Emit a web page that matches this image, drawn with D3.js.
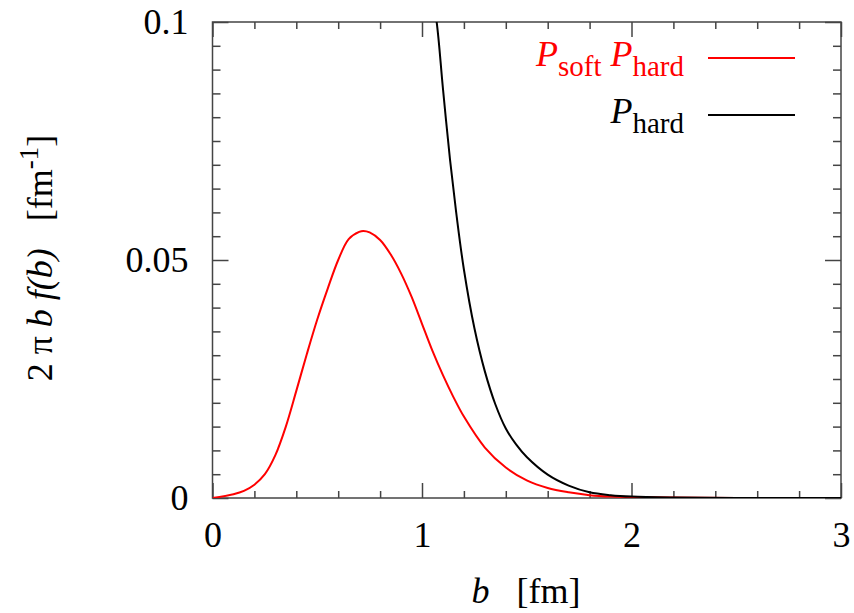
<!DOCTYPE html>
<html>
<head>
<meta charset="utf-8">
<script src="https://cdn.jsdelivr.net/npm/d3@7"></script>
<style>
  body { margin: 0; background: #fff; }
  text { font-family: "Liberation Serif", "DejaVu Serif", serif; white-space: pre; }
</style>
</head>
<body>
<svg id="chart" width="854" height="613"></svg>
<script>
// values
const bSoftHard = [0, 0.1, 0.15, 0.2, 0.25, 0.3, 0.35, 0.4, 0.45, 0.5, 0.55, 0.6, 0.65, 0.7, 0.72, 0.75, 0.8, 0.85, 0.9, 0.95, 1.0, 1.05, 1.1, 1.15, 1.2, 1.3, 1.4, 1.5, 1.6, 1.7, 1.8, 1.9, 2.0, 2.2, 2.5, 3.0];
const softHard = [0, 0.0008, 0.0015, 0.0028, 0.0050, 0.0090, 0.0150, 0.0225, 0.0302, 0.0375, 0.0440, 0.0500, 0.0544, 0.0559, 0.0561, 0.0558, 0.0542, 0.0512, 0.0472, 0.0423, 0.0366, 0.0309, 0.0258, 0.0212, 0.0171, 0.0106, 0.0064, 0.0037, 0.0021, 0.0012, 0.0006, 0.0003, 0.0002, 0.0001, 0, 0];
const bHard = [1.04, 1.07, 1.1, 1.134, 1.166, 1.2, 1.25, 1.3, 1.35, 1.4, 1.45, 1.5, 1.6, 1.7, 1.8, 1.9, 2.0, 2.2, 2.5, 3.0];
const hard = [0.108, 0.100, 0.086, 0.071, 0.059, 0.048, 0.0357, 0.0266, 0.0197, 0.0146, 0.0112, 0.0086, 0.0049, 0.0026, 0.0012, 0.0006, 0.0003, 0.0001, 0, 0];
const xTicks = [0, 1, 2, 3];
const yTicks = [0, 0.05, 0.1];
const yTickLabels = ["0", "0.05", "0.1"];

const svg = d3.select("#chart");
const pLeft = 212.5, pRight = 841, pTop = 22, pBottom = 498;
const axisColor = "#444";

const x = d3.scaleLinear().domain([0, 3]).range([pLeft, pRight]);
const y = d3.scaleLinear().domain([0, 0.1]).range([pBottom, pTop]);

svg.append("clipPath").attr("id", "plotclip")
      .append("rect").attr("x", pLeft).attr("y", pTop).attr("width", pRight - pLeft).attr("height", pBottom - pTop);

const minorX = d3.range(0, 3.0001, 0.2).map(d => +d.toFixed(1)).filter(d => !xTicks.includes(d));
const minorY = d3.range(0, 0.1001, 0.005).map(d => +d.toFixed(3)).filter(d => !yTicks.includes(d));

function styleAxis(g) {
      g.select(".domain").remove();
      g.selectAll("line").attr("stroke", axisColor).attr("stroke-width", 1.5);
      g.selectAll("text").attr("fill", "#000").attr("font-size", 36).attr("font-family", "Liberation Serif");
}

// bottom
svg.append("g").attr("transform", `translate(0,${pBottom})`)
      .call(d3.axisBottom(x).tickValues(xTicks).tickSize(-15).tickFormat(d3.format("d")))
      .call(styleAxis)
      .call(g => g.selectAll("text").attr("y", 49).attr("dy", 0));
svg.append("g").attr("transform", `translate(0,${pBottom})`)
      .call(d3.axisBottom(x).tickValues(minorX).tickSize(-7).tickFormat(""))
      .call(styleAxis);
// top
svg.append("g").attr("transform", `translate(0,${pTop})`)
      .call(d3.axisTop(x).tickValues(xTicks).tickSize(-15).tickFormat(""))
      .call(styleAxis);
svg.append("g").attr("transform", `translate(0,${pTop})`)
      .call(d3.axisTop(x).tickValues(minorX).tickSize(-7).tickFormat(""))
      .call(styleAxis);
// left
svg.append("g").attr("transform", `translate(${pLeft},0)`)
      .call(d3.axisLeft(y).tickValues(yTicks).tickSize(-16).tickPadding(24).tickFormat((d, i) => yTickLabels[i]))
      .call(styleAxis)
      .call(g => g.selectAll("text").attr("dy", "0.33em"));
svg.append("g").attr("transform", `translate(${pLeft},0)`)
      .call(d3.axisLeft(y).tickValues(minorY).tickSize(-8).tickFormat(""))
      .call(styleAxis);
// right
svg.append("g").attr("transform", `translate(${pRight},0)`)
      .call(d3.axisRight(y).tickValues(yTicks).tickSize(-16).tickFormat(""))
      .call(styleAxis);
svg.append("g").attr("transform", `translate(${pRight},0)`)
      .call(d3.axisRight(y).tickValues(minorY).tickSize(-8).tickFormat(""))
      .call(styleAxis);

// frame
svg.append("rect").attr("x", pLeft).attr("y", pTop).attr("width", pRight - pLeft).attr("height", pBottom - pTop)
      .attr("fill", "none").attr("stroke", axisColor).attr("stroke-width", 1.5);

const line = d3.line().x(d => x(d[0])).y(d => y(d[1])).curve(d3.curveCatmullRom.alpha(0.5));

svg.append("path").datum(d3.zip(bSoftHard, softHard))
      .attr("clip-path", "url(#plotclip)")
      .attr("fill", "none").attr("stroke", "#ff0000").attr("stroke-width", 2)
      .attr("d", line);

svg.append("path").datum(d3.zip(bHard, hard))
      .attr("clip-path", "url(#plotclip)")
      .attr("fill", "none").attr("stroke", "#000").attr("stroke-width", 2)
      .attr("d", line);

// legend
const legend = [
      { parts: [["P", "italic"], ["soft", "sub"], [" ", ""], ["P", "italic"], ["hard", "sub"]], color: "#ff0000", y: 58 },
      { parts: [["P", "italic"], ["hard", "sub"]], color: "#000", y: 115 }
];
legend.forEach(item => {
      const t = svg.append("text").attr("x", 684).attr("y", item.y + 8)
            .attr("text-anchor", "end").attr("font-size", 36).attr("fill", item.color);
      let shifted = false;
      item.parts.forEach(p => {
            const ts = t.append("tspan").text(p[0]);
            if (p[1] === "italic") ts.attr("font-style", "italic");
            if (p[1] === "sub") {
                  ts.attr("font-size", 29).attr("dy", shifted ? 0 : 10);
                  shifted = true;
            } else if (shifted) {
                  ts.attr("dy", -10);
                  shifted = false;
            }
      });
      svg.append("line").attr("x1", 708).attr("x2", 795).attr("y1", item.y).attr("y2", item.y)
            .attr("stroke", item.color).attr("stroke-width", 2);
});

// x label
const xl = svg.append("text").attr("x", 526).attr("y", 603).attr("text-anchor", "middle").attr("font-size", 36);
xl.append("tspan").attr("font-style", "italic").text("b");
xl.append("tspan").text("   [fm]");

// y label
const yl = svg.append("text").attr("transform", "translate(52,258) rotate(-90)")
      .attr("text-anchor", "middle").attr("font-size", 36);
yl.append("tspan").text("2 π ");
yl.append("tspan").attr("font-style", "italic").text("b f(b)");
yl.append("tspan").text("   [fm");
yl.append("tspan").attr("font-size", 27).attr("dy", -14).text("-1");
yl.append("tspan").attr("dy", 14).text("]");
</script>
</body>
</html>
